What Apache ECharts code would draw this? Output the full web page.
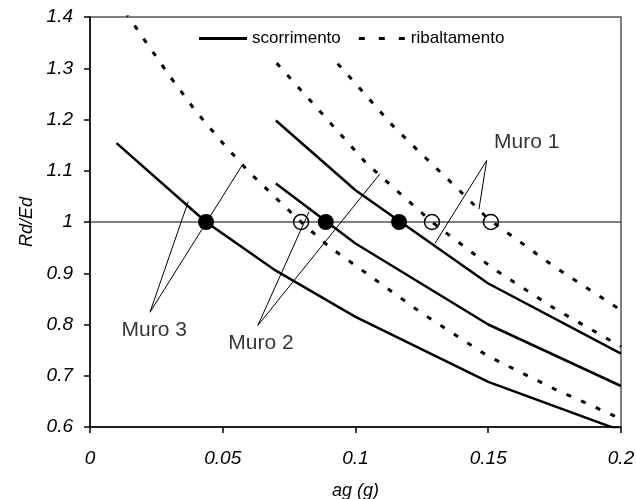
<!DOCTYPE html>
<html><head><meta charset="utf-8">
<script src="https://cdn.jsdelivr.net/npm/echarts@6/dist/echarts.min.js"></script>
<style>html,body{margin:0;padding:0;background:#fff}#c{width:636px;height:499px}</style>
</head><body><div id="c"></div>
<script>
// Tick labels
const xTicks = ['0', '0.05', '0.1', '0.15', '0.2'];
const yTicks = ['0.6', '0.7', '0.8', '0.9', '1', '1.1', '1.2', '1.3', '1.4'];

// scorrimento (solid) curves
const muro1ScorrX = [0.07, 0.1, 0.15, 0.2];
const muro1ScorrY = [1.198, 1.062, 0.880, 0.743];
const muro2ScorrX = [0.07, 0.1, 0.15, 0.2];
const muro2ScorrY = [1.075, 0.958, 0.800, 0.680];
const muro3ScorrX = [0.01, 0.0437, 0.07, 0.1, 0.15, 0.2];
const muro3ScorrY = [1.154, 1.0, 0.905, 0.815, 0.688, 0.593];

// ribaltamento (dashed) curves
const muro1RibX = [0.0933, 0.1, 0.1142, 0.125, 0.1371, 0.15, 0.1751, 0.2];
const muro1RibY = [1.309, 1.270, 1.187, 1.132, 1.072, 1.006, 0.912, 0.828];
const muro2RibX = [0.0703, 0.0873, 0.1042, 0.1288, 0.1519, 0.175, 0.2];
const muro2RibY = [1.310, 1.212, 1.114, 1.0, 0.909, 0.831, 0.757];
const muro3RibX = [0.01, 0.02, 0.03, 0.04, 0.05, 0.06, 0.07, 0.0795, 0.09, 0.1, 0.125, 0.15, 0.175, 0.2];
const muro3RibY = [1.435, 1.359, 1.285, 1.215, 1.154, 1.097, 1.047, 1.0, 0.952, 0.915, 0.822, 0.738, 0.674, 0.616];

// Rd/Ed = 1 crossings
const scorrCrossX = [0.1164, 0.0888, 0.0437];
const ribCrossX = [0.1510, 0.1288, 0.0795];
const refLevel = 1;

// Annotations: label, label position, leader polyline (end1, apex, end2)
const muroNames = ['Muro 1', 'Muro 2', 'Muro 3'];
const muroLabelX = [0.1645, 0.0644, 0.0242];
const muroLabelY = [1.155, 0.764, 0.789];
const leaderX = [[0.1465, 0.1494, 0.1299], [0.0825, 0.0632, 0.1092], [0.0370, 0.0226, 0.0571]];
const leaderY = [[1.025, 1.120, 0.958], [1.020, 0.798, 1.094], [1.040, 0.824, 1.109]];

const zip = (xs, ys) => xs.map((x, i) => [x, ys[i]]);
const FONT = "'Liberation Sans', Arial, sans-serif";
const xMin = +xTicks[0], xMax = +xTicks[xTicks.length - 1], xInt = +xTicks[1] - +xTicks[0];
const yMin = +yTicks[0], yMax = +yTicks[yTicks.length - 1], yInt = +yTicks[1] - +yTicks[0];

const solid = { color: '#000', width: 2.5, type: 'solid' };
const dashed = { color: '#000', width: 3, type: [5, 11] };
const lineBase = { type: 'line', symbol: 'none', showSymbol: false, clip: true, silent: true, z: 3 };

const series = [];
[[muro1ScorrX, muro1ScorrY], [muro2ScorrX, muro2ScorrY], [muro3ScorrX, muro3ScorrY]].forEach(([xs, ys]) => {
  series.push(Object.assign({}, lineBase, { name: 'scorrimento', data: zip(xs, ys), lineStyle: solid, itemStyle: { color: '#000' } }));
});
[[muro1RibX, muro1RibY], [muro2RibX, muro2RibY], [muro3RibX, muro3RibY]].forEach(([xs, ys]) => {
  series.push(Object.assign({}, lineBase, { name: 'ribaltamento', data: zip(xs, ys), lineStyle: dashed, itemStyle: { color: '#000' } }));
});
// horizontal reference line
series.push(Object.assign({}, lineBase, { name: 'ref', data: [[xMin, refLevel], [xMax, refLevel]], lineStyle: { color: '#000', width: 1 }, z: 2 }));
// leaders
leaderX.forEach((xs, i) => {
  series.push(Object.assign({}, lineBase, { name: 'leader' + i, data: zip(xs, leaderY[i]), lineStyle: { color: '#000', width: 1 }, z: 4 }));
});
// labels
series.push({
  type: 'scatter', name: 'labels', silent: true, symbolSize: 1, itemStyle: { color: 'rgba(0,0,0,0)' },
  data: muroNames.map((n, i) => ({ value: [muroLabelX[i], muroLabelY[i]], name: n })),
  label: { show: true, position: 'inside', formatter: p => p.name, color: '#000', fontFamily: FONT, fontSize: 21 }, z: 6
});
// filled dots
series.push({
  type: 'scatter', name: 'scorrDots', silent: true, symbol: 'circle', symbolSize: 16,
  itemStyle: { color: '#000', opacity: 1 }, data: scorrCrossX.map(x => [x, refLevel]), z: 7
});
// hollow circles
series.push({
  type: 'scatter', name: 'ribDots', silent: true, symbol: 'circle', symbolSize: 15,
  itemStyle: { color: 'rgba(0,0,0,0)', borderColor: '#000', borderWidth: 1.5, opacity: 1 }, data: ribCrossX.map(x => [x, refLevel]), z: 7
});

const chart = echarts.init(document.getElementById('c'), null, { renderer: 'canvas' });
chart.setOption({
  animation: false,
  backgroundColor: '#fff',
  textStyle: { fontFamily: FONT },
  grid: { left: 90, right: 15, top: 17, bottom: 72, outerBoundsMode: 'none', containLabel: false,
    show: true, borderColor: '#555', borderWidth: 1.5, backgroundColor: '#fff' },
  legend: {
    data: [
      { name: 'scorrimento', icon: 'path://M0,0H48V3H0Z' },
      { name: 'ribaltamento', icon: 'path://M0,0H6V3H0Z M20,0H26V3H20Z M40,0H46V3H40Z' }
    ],
    left: 199, top: 30, padding: 0, itemWidth: 48, itemHeight: 3, itemGap: 18,
    itemStyle: { color: '#000', borderWidth: 0 },
    textStyle: { fontFamily: FONT, fontSize: 17, color: '#000', padding: [0, 0, 0, 0] }, selectedMode: false
  },
  xAxis: {
    type: 'value', min: xMin, max: xMax, interval: xInt,
    name: 'ag (g)', nameLocation: 'middle', nameGap: 55,
    nameTextStyle: { fontFamily: FONT, fontSize: 18, fontStyle: 'italic', color: '#000' },
    axisLine: { show: true, lineStyle: { color: '#000', width: 1.5 } },
    axisTick: { show: true, length: 6, lineStyle: { color: '#000', width: 1.5 } },
    axisLabel: { margin: 22, fontFamily: FONT, fontSize: 19, fontStyle: 'italic', color: '#000',
      formatter: v => xTicks[Math.round((v - xMin) / xInt)] },
    splitLine: { show: false }
  },
  yAxis: {
    type: 'value', min: yMin, max: yMax, interval: yInt,
    name: 'Rd/Ed', nameLocation: 'middle', nameGap: 53,
    nameTextStyle: { fontFamily: FONT, fontSize: 18, fontStyle: 'italic', color: '#000' },
    axisLine: { show: true, lineStyle: { color: '#000', width: 1.5 } },
    axisTick: { show: true, length: 6, lineStyle: { color: '#000', width: 1.5 } },
    axisLabel: { margin: 17, fontFamily: FONT, fontSize: 19, fontStyle: 'italic', color: '#000',
      formatter: v => yTicks[Math.round((v - yMin) / yInt)] },
    splitLine: { show: false }
  },
  series: series
});
</script>
</body></html>
